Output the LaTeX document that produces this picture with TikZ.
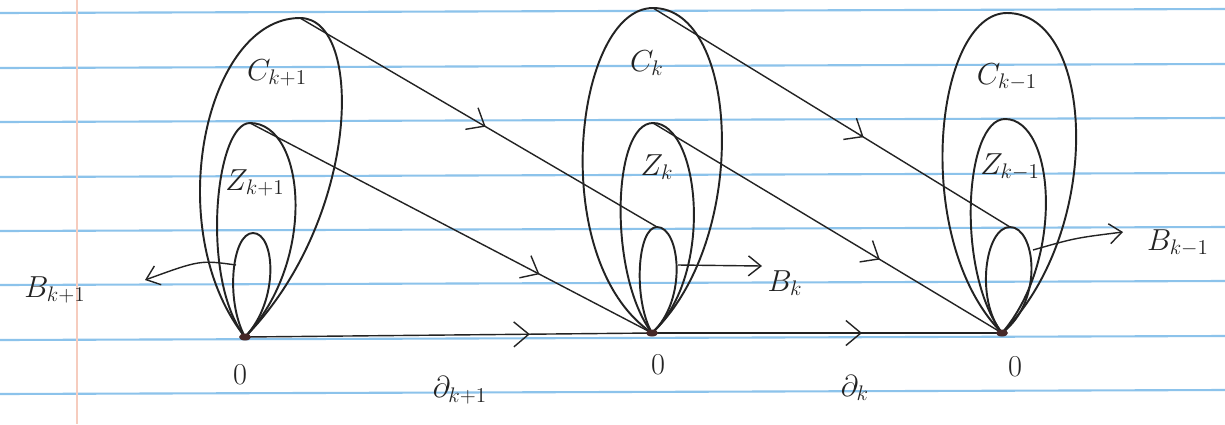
\documentclass[tikz,border=0pt]{standalone}
\usepackage{amsmath,amssymb}
\usepackage{tikz}
\usetikzlibrary{arrows.meta,decorations.markings}
\definecolor{ruleblue}{RGB}{140,195,235}
\definecolor{marginred}{RGB}{246,204,190}
\definecolor{pencil}{RGB}{35,35,35}
\definecolor{dotbrown}{RGB}{70,40,40}

\begin{document}
\begin{tikzpicture}[
x=0.02cm, y=-0.02cm,
loop/.style={draw=pencil, line width=1.1pt},
map/.style={draw=pencil, line width=0.8pt, postaction={decorate},
  decoration={markings, mark=at position #1 with {\arrow{Straight Barb[length=3mm,width=5mm]}}}},
tag/.style={draw=pencil, line width=0.8pt, -{Straight Barb[length=2.5mm,width=4mm]}},
lbl/.style={font=\LARGE, text=pencil, inner sep=1pt}
]
% paper
\useasboundingbox (0,0) rectangle (1225,424);
\fill[white] (0,0) rectangle (1225,424);
\foreach \ry in {13,68,122,177,231,285,340,394}
  \draw[ruleblue, line width=1.2pt] (0,\ry) -- (1225,{\ry-4});
\draw[marginred, line width=1.5pt] (77,0) -- (77,424);

% base points and tops
\coordinate (o1) at (245,337);
\coordinate (o2) at (652,333);
\coordinate (o3) at (1002,333);
\coordinate (ctop1) at (300,18);
\coordinate (ztop1) at (250,123);
\coordinate (btop1) at (253,233);
\coordinate (ctop2) at (653,8);
\coordinate (ztop2) at (653,123);
\coordinate (btop2) at (657,227);
\coordinate (ctop3) at (1007,13);
\coordinate (ztop3) at (1005,119);
\coordinate (btop3) at (1010,227);

% loops k+1
\draw[loop] (o1) .. controls (160,230) and (205,18) .. (ctop1) .. controls (365,18) and (360,220) .. (o1);
\draw[loop] (o1) .. controls (200,280) and (215,123) .. (ztop1) .. controls (305,123) and (318,260) .. (o1);
\draw[loop] (o1) .. controls (225,300) and (232,233) .. (btop1) .. controls (275,233) and (280,300) .. (o1);
% loops k
\draw[loop] (o2) .. controls (545,260) and (575,8) .. (ctop2) .. controls (740,8) and (750,240) .. (o2);
\draw[loop] (o2) .. controls (608,275) and (612,123) .. (ztop2) .. controls (700,123) and (715,275) .. (o2);
\draw[loop] (o2) .. controls (633,300) and (637,227) .. (btop2) .. controls (680,227) and (688,300) .. (o2);
% loops k-1
\draw[loop] (o3) .. controls (910,240) and (935,13) .. (ctop3) .. controls (1095,13) and (1105,230) .. (o3);
\draw[loop] (o3) .. controls (955,270) and (965,119) .. (ztop3) .. controls (1055,119) and (1065,260) .. (o3);
\draw[loop] (o3) .. controls (975,300) and (985,227) .. (btop3) .. controls (1035,227) and (1045,300) .. (o3);

% maps
\draw[map=0.7] (o1) -- (o2);
\draw[map=0.6] (o2) -- (o3);
\draw[map=0.52] (ctop1) -- (btop2);
\draw[map=0.59] (ctop2) -- (btop3);
\draw[map=0.72] (ztop1) -- (o2);
\draw[map=0.65] (ztop2) -- (o3);

\foreach \p in {o1,o2,o3}
  \fill[dotbrown] (\p) ellipse (6 and 3.5);

% labels
\node[lbl] (lc1) at (277,73) {$C_{k+1}$};
\node[lbl] (lz1) at (255,183) {$Z_{k+1}$};
\node[lbl] (lb1) at (55,290) {$B_{k+1}$};
\node[lbl] (lo1) at (240,375) {$0$};
\node[lbl] (lc2) at (647,63) {$C_k$};
\node[lbl] (lz2) at (657,167) {$Z_k$};
\node[lbl] (lb2) at (785,283) {$B_k$};
\node[lbl] (lo2) at (658,365) {$0$};
\node[lbl] (lc3) at (1007,77) {$C_{k-1}$};
\node[lbl] (lz3) at (1010,167) {$Z_{k-1}$};
\node[lbl] (lb3) at (1178,243) {$B_{k-1}$};
\node[lbl] (lo3) at (1015,367) {$0$};
\node[lbl] (ld1) at (460,390) {$\partial_{k+1}$};
\node[lbl] (ld2) at (855,388) {$\partial_k$};

% pointers to the B loops
\coordinate (bs1) at (236,265);
\coordinate (be1) at (145,280);
\coordinate (bs2) at (678,265);
\coordinate (be2) at (762,266);
\coordinate (bs3) at (1033,250);
\coordinate (be3) at (1123,232);
\draw[tag] (bs1) .. controls (200,260) .. (be1);
\draw[tag] (bs2) -- (be2);
\draw[tag] (bs3) .. controls (1075,238) .. (be3);
\end{tikzpicture}
\end{document}
